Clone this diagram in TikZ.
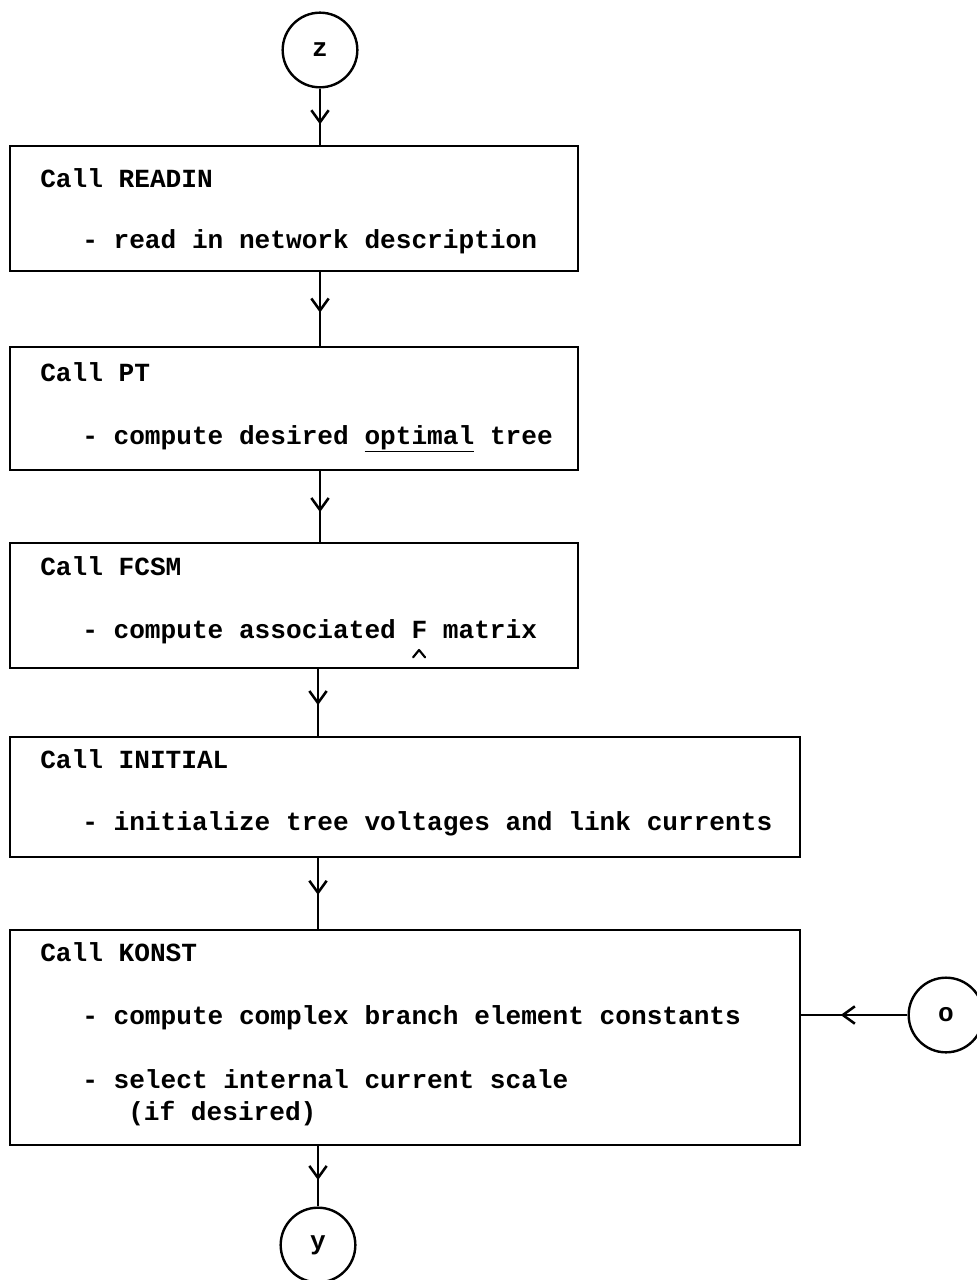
\documentclass[tikz,border=0pt]{standalone}
\usepackage{fontspec}
\setmonofont{Liberation Mono}
\usetikzlibrary{arrows.meta,decorations.markings,fit}

% one unit = one pixel of a 976 x 1280 page, y pointing down
\tikzset{
  box/.style={draw, line width=2.2pt, inner sep=0pt, rectangle},
  circ/.style={draw, circle, line width=1.8pt, minimum size=56pt, inner sep=0pt,
               font=\fontsize{19.6}{22}\ttfamily\bfseries},
  txt/.style={anchor=base west, inner sep=0pt, font=\fontsize{19.6}{22}\ttfamily\bfseries},
  caret/.style={line width=1.6pt, line cap=round, line join=round},
  flow/.style={line width=1.9pt, postaction={decorate},
    decoration={markings, mark=at position #1 with
      {\arrow{Straight Barb[length=9pt, width=13pt, line width=1.9pt]}}}},
  flow/.default=0.55
}

\begin{document}
\begin{tikzpicture}[x=0.75pt, y=-0.75pt]
  \useasboundingbox (0,0) rectangle (976,1280);

  % off-page connectors
  \node[circ] (z) at (320,50) {z};
  \node[circ] (y) at (318,1245) {y};
  \node[circ] (o) at (946,1015) {o};

  % process boxes
  \node[box, fit={(10,146) (578,271)}] (b1) {};
  \node[box, fit={(10,347) (578,470)}] (b2) {};
  \node[box, fit={(10,543) (578,668)}] (b3) {};
  \node[box, fit={(10,737) (800,857)}] (b4) {};
  \node[box, fit={(10,930) (800,1145)}] (b5) {};

  % box texts
  \node[txt] (t1a) at (40,188) {Call READIN};
  \node[txt] (t1b) at (82,248) {- read in network description};

  \node[txt] (t2a) at (40,381) {Call PT};
  \node[txt] (t2b) at (82,444) {- compute desired \underline{optimal} tree};

  \node[txt] (t3a) at (40,575) {Call FCSM};
  \node[txt] (t3b) at (82,638) {- compute associated F matrix};
  % caret marking the F as a matrix (21 characters in from the line start)
  \draw[caret] ([xshift=248.3pt, yshift=-14.5pt]t3b.base west)
            -- ([xshift=252.8pt, yshift=-9pt]t3b.base west)
            -- ([xshift=257.3pt, yshift=-14.5pt]t3b.base west);

  \node[txt] (t4a) at (40,768) {Call INITIAL};
  \node[txt] (t4b) at (82,830) {- initialize tree voltages and link currents};

  \node[txt] (t5a) at (40,961) {Call KONST};
  \node[txt] (t5b) at (82,1024) {- compute complex branch element constants};
  \node[txt] (t5c) at (82,1088) {- select internal current scale};
  \node[txt] (t5d) at (128,1120) {(if desired)};

  % flow lines
  \draw[flow=0.64] (z.south) -- (z.south |- b1.north);
  \draw[flow=0.55] (b1.south -| z.south) -- (z.south |- b2.north);
  \draw[flow=0.58] (b2.south -| z.south) -- (z.south |- b3.north);
  \draw[flow=0.54] (b3.south -| y.north) -- (y.north |- b4.north);
  \draw[flow=0.52] (b4.south -| y.north) -- (y.north |- b5.north);
  \draw[flow=0.56] (y.north |- b5.south) -- (y.north);
  \draw[flow=0.63] (o.west) -- (o.west -| b5.east);
\end{tikzpicture}
\end{document}
